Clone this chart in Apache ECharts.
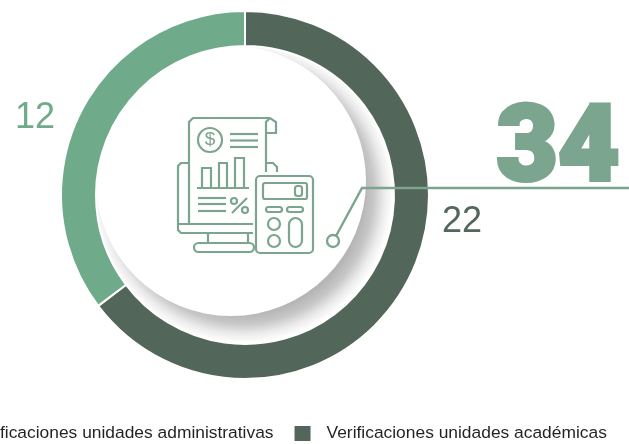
<!DOCTYPE html>
<html>
<head>
<meta charset="utf-8">
<script src="https://cdn.jsdelivr.net/npm/echarts@6/dist/echarts.min.js"></script>
<style>
  html, body { margin: 0; padding: 0; background: #fff; }
  #chart { width: 629px; height: 444px; }
</style>
</head>
<body>
<div id="chart"></div>
<script>
// datos del grafico
const categories = ['Verificaciones unidades académicas', 'Verificaciones unidades administrativas'];
const seriesValues = [22, 12];
const legendOrder = ['Verificaciones unidades administrativas', 'Verificaciones unidades académicas'];
const totalLabel = '34';

const DARK = '#53665a';
const LIGHT = '#6fab8a';
const SOFT = '#7ba58e';

// helpers del icono central
function stroke(extra) {
    return Object.assign({ fill: 'none', stroke: SOFT, lineWidth: 2.2 }, extra || {});
}
function rrect(x, y, w, h, r, fill) {
    return { type: 'rect', z: 10, shape: { x: x, y: y, width: w, height: h, r: r }, style: stroke(fill ? { fill: fill } : {}) };
}
function line(x1, y1, x2, y2) {
    return { type: 'line', z: 10, shape: { x1: x1, y1: y1, x2: x2, y2: y2 }, style: stroke() };
}
function ring(cx, cy, r, fill) {
    return { type: 'circle', z: 10, shape: { cx: cx, cy: cy, r: r }, style: stroke(fill ? { fill: fill } : {}) };
}
function poly(points) {
    return { type: 'polyline', z: 10, shape: { points: points }, style: stroke() };
}

const icon = [
    // hoja
    poly([[189, 223], [189, 122], [193, 118], [270, 118], [276, 122], [276, 133], [266, 133]]),
    poly([[266, 172], [266, 122], [270, 118]]),
    // monitor
    poly([[189, 163], [181, 163], [178, 166], [178, 230], [181, 233], [253, 233]]),
    poly([[178, 224], [253, 224]]),
    poly([[266, 163], [273, 163], [277, 167], [277, 172]]),
    line(208, 233, 208, 243),
    line(248, 233, 248, 243),
    rrect(194, 243, 60, 9, 4.5),
    // moneda
    ring(210, 140, 12),
    line(230, 134, 258, 134), line(230, 140.5, 258, 140.5), line(230, 147, 258, 147),
    { type: 'text', z: 10, style: { text: '$', x: 210, y: 140, align: 'center', verticalAlign: 'middle', fill: SOFT, font: '19px "Liberation Sans"' } },
    // barras
    poly([[202, 188], [202, 168], [211, 168], [211, 188]]),
    poly([[219, 188], [219, 163], [227, 163], [227, 188]]),
    poly([[235, 188], [235, 158], [244, 158], [244, 188]]),
    line(197, 188, 249, 188),
    line(198, 198, 226, 198), line(198, 204, 226, 204), line(198, 211, 226, 211),
    // porcentaje
    ring(234, 201, 3), ring(245, 210, 3), line(232, 213, 247, 198),
    // calculadora
    rrect(256, 176, 57, 77, 4, '#fff'),
    rrect(263, 183, 44, 16, 2),
    rrect(295, 186, 7, 10, 2.5),
    rrect(266, 207, 16, 5, 2.5),
    rrect(287, 207, 16, 5, 2.5),
    ring(274, 224, 6),
    ring(274, 241, 6),
    rrect(289, 218, 13, 29, 6.5)
];

const myChart = echarts.init(document.getElementById('chart'), null, { renderer: 'canvas' });
myChart.setOption({
    animation: false,
    color: [DARK, LIGHT],
    legend: {
        data: legendOrder,
        left: -69,
        top: 419,
        width: 900,
        itemWidth: 18,
        itemHeight: 17,
        itemGap: 19,
        icon: 'rect',
        textStyle: { fontFamily: '"Liberation Sans"', fontSize: 17.4, color: '#1f2421', padding: [0, 0, 0, 10] }
    },
    series: [{
        type: 'pie',
        z: 3,
        center: [245, 195],
        radius: [149, 184],
        startAngle: 90,
        clockwise: true,
        silent: true,
        itemStyle: { borderColor: '#fff', borderWidth: 2 },
        label: {
            show: true,
            position: 'outside',
            formatter: '{c}',
            overflow: 'none',
            fontFamily: '"Liberation Sans"',
            fontSize: 36
        },
        labelLine: { show: false },
        labelLayout: function (params) {
            return params.dataIndex === 0
                ? { x: 462, y: 222, align: 'center', verticalAlign: 'middle' }
                : { x: 35, y: 118, align: 'center', verticalAlign: 'middle' };
        },
        data: categories.map(function (name, i) {
            return {
                name: name,
                value: seriesValues[i],
                label: { color: i === 0 ? DARK : LIGHT }
            };
        })
    }],
    graphic: [
        // sombra difusa y disco blanco, debajo del anillo
        {
            type: 'circle',
            z: 1,
            shape: { cx: 243, cy: 193, r: 150 },
            style: {
                fill: {
                    type: 'radial', x: 0.5, y: 0.5, r: 0.5,
                    colorStops: [
                        { offset: 0, color: 'rgba(0,0,0,0.29)' },
                        { offset: 0.8, color: 'rgba(0,0,0,0.29)' },
                        { offset: 0.87, color: 'rgba(0,0,0,0.22)' },
                        { offset: 0.94, color: 'rgba(0,0,0,0.08)' },
                        { offset: 1, color: 'rgba(0,0,0,0)' }
                    ]
                }
            }
        },
        {
            type: 'circle',
            z: 2,
            shape: { cx: 231, cy: 181, r: 135 },
            style: { fill: '#fff' }
        },
        // conector y total
        {
            type: 'polyline',
            z: 11,
            shape: { points: [[336, 236], [362, 188], [629, 188]] },
            style: { fill: 'none', stroke: SOFT, lineWidth: 2.4 }
        },
        {
            type: 'circle',
            z: 11,
            shape: { cx: 333, cy: 241, r: 6 },
            style: { fill: '#fff', stroke: SOFT, lineWidth: 2.4 }
        },
        {
            type: 'text',
            z: 11,
            style: {
                text: totalLabel,
                x: 558,
                y: 153,
                align: 'center',
                verticalAlign: 'middle',
                fill: SOFT,
                stroke: SOFT,
                lineWidth: 4,
                font: '900 106px "Roboto", "Liberation Sans"'
            }
        }
    ].concat(icon)
});
</script>
</body>
</html>
